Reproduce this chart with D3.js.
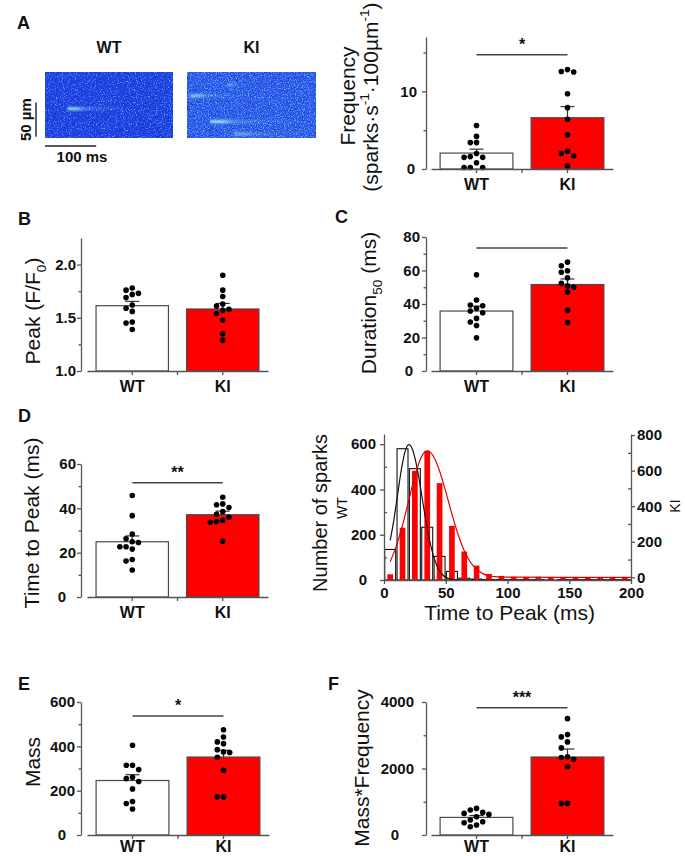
<!DOCTYPE html>
<html>
<head>
<meta charset="utf-8">
<script src="https://cdn.jsdelivr.net/npm/d3@7/dist/d3.min.js"></script>
<style>
html,body{margin:0;padding:0;background:#fff;}
svg{display:block;}
</style>
</head>
<body>
<svg id="fig" width="685" height="856" xmlns="http://www.w3.org/2000/svg"></svg>
<script>
// ================= DATA =================
const groups = ["WT", "KI"];

// A: spark frequency (sparks·s-1·100µm-1)
const freqWT = [5.6, 4.2, 3.4, 3.4, 2.0, 1.6, 1.5, 1.5, 0.8, 0.2, 0.2, 0.2];
const freqKI = [12.8, 12.55, 12.5, 9.7, 7.9, 6.4, 4.4, 2.3, 2.0, 1.7, 0.4];
const freqTicks = [0, 10];
const freqMinor = [5, 15];

// B: peak F/F0
const peakWT = [1.78, 1.76, 1.73, 1.72, 1.69, 1.62, 1.59, 1.56, 1.46, 1.45, 1.39];
const peakKI = [1.90, 1.76, 1.70, 1.63, 1.61, 1.58, 1.57, 1.54, 1.48, 1.35, 1.29];
const peakTicks = [1.0, 1.5, 2.0];
const peakMinor = [1.25, 1.75];

// C: duration50 (ms)
const durWT = [57.4, 42.4, 39.4, 39.0, 37.4, 35.8, 34.8, 31.4, 29.2, 27.2, 19.8];
const durKI = [65, 62.8, 59.8, 59, 55.6, 52.4, 50.8, 50, 47.2, 36.2, 29];
const durTicks = [0, 20, 40, 60, 80];
const durMinor = [10, 30, 50, 70];

// D: time to peak (ms)
const ttpWT = [45.8, 36.7, 28.4, 26.3, 24.9, 24.6, 22.7, 22.7, 21.6, 16.9, 16.2, 12.2];
const ttpKI = [45, 42, 41.6, 40.4, 38.5, 37.3, 36, 34.6, 34, 33.7, 25.2];
const ttpTicks = [0, 20, 40, 60];
const ttpMinor = [10, 30, 50];

// D: histogram of time to peak
const histBinCenters = [5, 15, 25, 35, 45, 55, 65, 75, 85, 95, 105, 115, 125, 135, 145, 155, 165, 175, 185, 195];
const histWT = [135, 580, 492, 233, 104, 38, 8, 4, 2, 2, 1, 1, 1, 0, 1, 1, 1, 1, 1, 1];
const histKI = [17, 279, 599, 711, 530, 289, 145, 66, 19, 8, 3, 2, 3, 1, 1, 2, 1, 0, 0, 0];
const fitWTt = [5, 8, 11, 14, 17, 20, 23, 26, 29, 32, 35, 38, 41, 44, 48, 52, 58, 70, 200];
const fitWTv = [175, 266, 377, 486, 566, 598, 578, 516, 427, 325, 229, 149, 90, 50, 20, 7, 1, 0, 0];
const fitKIt = [5, 10, 15, 20, 25, 30, 35, 40, 45, 50, 55, 60, 65, 70, 75, 80, 85, 90, 100, 200];
const fitKIv = [88, 177, 292, 431, 569, 673, 711, 681, 598, 482, 356, 241, 150, 85, 45, 21, 9, 4, 1, 0];
const histXTicks = [0, 50, 100, 150, 200];
const histXMinor = [25, 75, 125, 175];
const histLeftTicks = [0, 200, 400, 600];
const histLeftMinor = [100, 300, 500];
const histRightTicks = [0, 200, 400, 600, 800];
const histRightMinor = [100, 300, 500, 700];

// E: mass
const massWT = [405, 315, 315, 295, 260, 255, 241, 208, 151, 142, 117];
const massKI = [475, 442, 420, 412, 385, 375, 372, 351, 292, 172, 172];
const massTicks = [0, 200, 400, 600];
const massMinor = [100, 300, 500];

// F: mass*frequency
const mfWT = [800, 750, 680, 650, 620, 550, 450, 400, 370, 300, 250];
const mfKI = [3500, 3020, 2950, 2800, 2620, 2350, 2330, 2280, 2050, 950, 950];
const mfTicks = [0, 2000, 4000];
const mfMinor = [1000, 3000];

// A: line-scan sparks (time ms, position µm, relative brightness)
const sparksWT = [{t0: 44, t1: 160, pos: 54, amp: 0.95}];
const sparksKI = [
  {t0: 6, t1: 118, pos: 35, amp: 0.8},
  {t0: 78, t1: 122, pos: 19, amp: 0.5},
  {t0: 45, t1: 205, pos: 73, amp: 1.0},
  {t0: 90, t1: 248, pos: 91, amp: 0.55}
];

// ================= DRAWING =================
const svg = d3.select('#fig');
const defs = svg.append('defs');
const FONT = '"Liberation Sans", Arial, Helvetica, sans-serif';
const AX = '#555';
const RED = '#ff0000';

function label(parent, x, y, parts, size, o = {}) {
  const t = parent.append('text')
    .attr('x', x).attr('y', y)
    .attr('font-family', FONT).attr('font-size', size)
    .attr('font-weight', o.bold ? 'bold' : 'normal')
    .attr('text-anchor', o.anchor || 'middle')
    .attr('fill', '#111');
  if (o.dy) t.attr('dy', o.dy);
  if (o.rot) t.attr('transform', `rotate(${o.rot},${x},${y})`);
  if (typeof parts === 'string') parts = [{t: parts}];
  let shift = 0;
  parts.forEach(p => {
    const target = p.sub ? size * 0.25 : p.sup ? -size * 0.4 : 0;
    const ts = t.append('tspan').text(p.t);
    if (target - shift !== 0) ts.attr('dy', target - shift);
    if (p.sub || p.sup) ts.attr('font-size', size * 0.65);
    shift = target;
  });
  return t;
}

function styleAxis(sel, size = 15) {
  sel.attr('font-family', null).attr('font-size', null);
  sel.select('.domain').attr('stroke', AX).attr('stroke-width', 1.3);
  sel.selectAll('.tick line').attr('stroke', AX).attr('stroke-width', 1.3);
  sel.selectAll('.tick text').attr('font-family', FONT).attr('font-size', size)
    .attr('font-weight', 'bold').attr('fill', '#111');
  return sel;
}

function swarm(vals, y, cx) {
  const cols = [0, -1, 1, -2, 2, -3, 3, -4, 4];
  const step = 6.2, minD = 6;
  const placed = [];
  vals.slice().sort((a, b) => b - a).forEach(v => {
    const yy = y(v);
    for (const c of cols) {
      if (!placed.some(p => p.c === c && Math.abs(p.y - yy) < minD)) {
        placed.push({c, y: yy});
        break;
      }
    }
  });
  return placed.map(p => ({x: cx + p.c * step, y: p.y}));
}

function barPanel(o) {
  const g = svg.append('g');
  const x = d3.scaleBand().domain(groups).range(o.xRange).paddingInner(0.2).paddingOuter(0.1);
  const y = d3.scaleLinear().domain(o.domain).range(o.yRange);
  const base = o.yRange[0];
  const bw = x.bandwidth();
  const cx = k => x(k) + bw / 2;
  const fmt = o.fmt || d3.format('d');

  const stats = groups.map((k, i) => {
    const v = o.values[i];
    return {k, i, v, m: d3.mean(v), sem: d3.deviation(v) / Math.sqrt(v.length)};
  });

  g.selectAll('rect.bar').data(stats).join('rect').attr('class', 'bar')
    .attr('x', d => x(d.k)).attr('y', d => y(d.m))
    .attr('width', bw).attr('height', d => base - y(d.m))
    .attr('fill', d => d.i ? RED : '#fff')
    .attr('stroke', '#4a4a4a').attr('stroke-width', 1.2);

  stats.forEach(d => {
    const top = y(d.m + d.sem);
    g.append('line').attr('x1', cx(d.k)).attr('x2', cx(d.k))
      .attr('y1', y(d.m)).attr('y2', top).attr('stroke', '#333').attr('stroke-width', 1.2);
    g.append('line').attr('x1', cx(d.k) - 7).attr('x2', cx(d.k) + 7)
      .attr('y1', top).attr('y2', top).attr('stroke', '#333').attr('stroke-width', 1.2);
  });

  stats.forEach(d => {
    g.selectAll(null).data(swarm(d.v, y, cx(d.k))).join('circle')
      .attr('cx', p => p.x).attr('cy', p => p.y).attr('r', 2.8).attr('fill', '#000');
  });

  // y axis
  const ay = g.append('g').attr('transform', `translate(${o.axisX},0)`)
    .call(d3.axisLeft(y).tickValues(o.ticks).tickSize(4).tickSizeOuter(0)
      .tickPadding(o.pad).tickFormat(fmt));
  styleAxis(ay);
  ay.selectAll('.tick text').attr('dx', d => d === o.domain[0] ? (o.zeroDx || 0) : 0);
  const am = g.append('g').attr('transform', `translate(${o.axisX},0)`)
    .call(d3.axisLeft(y).tickValues(o.minor).tickSize(2.5).tickFormat(''));
  am.select('.domain').remove();
  styleAxis(am);

  // x axis
  const ax = g.append('g').attr('transform', `translate(0,${base})`)
    .call(d3.axisBottom(x).tickSize(4).tickSizeOuter(0).tickPadding(o.xpad == null ? 5.5 : o.xpad));
  styleAxis(ax, 16);
  ax.append('line').attr('x1', (cx('WT') + cx('KI')) / 2).attr('x2', (cx('WT') + cx('KI')) / 2)
    .attr('y1', 0).attr('y2', 4).attr('stroke', AX).attr('stroke-width', 1.3);

  // significance
  if (o.sig) {
    const sy = y(o.sig.v);
    g.append('line').attr('x1', cx('WT')).attr('x2', cx('KI'))
      .attr('y1', sy).attr('y2', sy).attr('stroke', '#444').attr('stroke-width', 1.5);
    if (o.sig.label) label(g, (cx('WT') + cx('KI')) / 2, sy - 4.5, o.sig.label, 16, {bold: true});
  }

  // y label(s)
  o.ylabels.forEach(l => label(g, l.x, l.y, l.parts, 21, {rot: -90, dy: '0.35em'}));
}

// ---------- panel letters ----------
[['A', 17, 29], ['B', 18, 225], ['C', 335, 223], ['D', 18, 422], ['E', 18, 690], ['F', 328, 690]]
  .forEach(([t, x, y]) => label(svg, x, y, t, 18, {bold: true, anchor: 'start'}));

// ---------- A: line-scan images ----------
(function () {
  const g = svg.append('g');
  const imgY = d3.scaleLinear().domain([0, 97]).range([72, 138]);
  const tWT = d3.scaleLinear().domain([0, 250]).range([45, 173]);
  const tKI = d3.scaleLinear().domain([0, 250]).range([187, 316]);

  function speckFilter(id, lightC, seed) {
    const f = defs.append('filter').attr('id', id)
      .attr('x', 0).attr('y', 0).attr('width', 1).attr('height', 1)
      .attr('color-interpolation-filters', 'sRGB');
    f.append('feTurbulence').attr('type', 'fractalNoise').attr('baseFrequency', 0.85)
      .attr('numOctaves', 2).attr('seed', seed).attr('result', 'n');
    f.append('feColorMatrix').attr('in', 'n').attr('type', 'matrix')
      .attr('values', `0 0 0 0 0.36  0 0 0 0 0.7  0 0 0 0 1  3.6 0 0 0 ${lightC}`).attr('result', 'l');
    f.append('feColorMatrix').attr('in', 'n').attr('type', 'matrix')
      .attr('values', '0 0 0 0 0.06  0 0 0 0 0.1  0 0 0 0 0.6  0 -3.4 0 0 1.35').attr('result', 'd');
    const m = f.append('feMerge');
    m.append('feMergeNode').attr('in', 'SourceGraphic');
    m.append('feMergeNode').attr('in', 'd');
    m.append('feMergeNode').attr('in', 'l');
  }
  speckFilter('speckWT', -1.95, 3);
  speckFilter('speckKI', -1.72, 9);

  const blur = defs.append('filter').attr('id', 'sparkBlur').attr('filterUnits', 'userSpaceOnUse')
    .attr('x', 0).attr('y', 50).attr('width', 340).attr('height', 110);
  blur.append('feGaussianBlur').attr('stdDeviation', '1.3 0.8');

  const grad = defs.append('linearGradient').attr('id', 'sparkGrad')
    .attr('x1', 0).attr('x2', 1).attr('y1', 0).attr('y2', 0);
  [[0, 1], [0.15, 0.95], [0.27, 0.4], [0.6, 0.15], [1, 0]].forEach(([o, a]) =>
    grad.append('stop').attr('offset', o).attr('stop-color', '#9ff4f0').attr('stop-opacity', a));

  function image(t, sparks, fill, filt, id) {
    const [x0, x1] = t.range();
    const [y0, y1] = imgY.range();
    defs.append('clipPath').attr('id', id).append('rect')
      .attr('x', x0).attr('y', y0).attr('width', x1 - x0).attr('height', y1 - y0);
    g.append('rect').attr('x', x0).attr('y', y0).attr('width', x1 - x0).attr('height', y1 - y0)
      .attr('fill', fill).attr('filter', `url(#${filt})`);
    const sg = g.append('g').attr('clip-path', `url(#${id})`).append('g').attr('filter', 'url(#sparkBlur)');
    sg.selectAll('rect').data(sparks).join('rect')
      .attr('x', d => t(d.t0)).attr('width', d => t(d.t1) - t(d.t0))
      .attr('y', d => imgY(d.pos) - 1.5).attr('height', 3)
      .attr('fill', 'url(#sparkGrad)').attr('opacity', d => d.amp);
  }
  image(tWT, sparksWT, '#1f3fe0', 'speckWT', 'clipWT');
  image(tKI, sparksKI, '#2a50e6', 'speckKI', 'clipKI');

  label(g, d3.mean(tWT.range()), 53, 'WT', 16, {bold: true});
  label(g, d3.mean(tKI.range()), 53, 'KI', 16, {bold: true});

  // scale bars: 50 µm and 100 ms
  const barBottom = imgY(95), barTop = imgY(95) - (imgY(50) - imgY(0));
  g.append('line').attr('x1', 36).attr('x2', 36).attr('y1', barBottom).attr('y2', barTop)
    .attr('stroke', '#222').attr('stroke-width', 1.4);
  g.append('line').attr('x1', tWT(0)).attr('x2', tWT(100)).attr('y1', 146).attr('y2', 146)
    .attr('stroke', '#222').attr('stroke-width', 1.4);
  label(g, 26, (barBottom + barTop) / 2, '50 µm', 15, {bold: true, rot: -90, dy: '0.35em'});
  label(g, 82, 162, '100 ms', 15, {bold: true});
})();

// ---------- bar panels ----------
barPanel({
  values: [freqWT, freqKI], domain: [0, 17], yRange: [169, 37], xRange: [431, 613], axisX: 426,
  ticks: freqTicks, minor: freqMinor, pad: 5, zeroDx: -2,
  sig: {v: 14.7, label: '*'},
  ylabels: [
    {x: 348, y: 96, parts: 'Frequency'},
    {x: 370.5, y: 97, parts: [{t: '(sparks·s'}, {t: '-1', sup: true}, {t: '·100µm'}, {t: '-1', sup: true}, {t: ')'}]}
  ]
});
barPanel({
  values: [peakWT, peakKI], domain: [1, 2.25], yRange: [371, 238], xRange: [87, 268], axisX: 81,
  ticks: peakTicks, minor: peakMinor, pad: 1, fmt: d3.format('.1f'),
  ylabels: [{x: 33, y: 311, parts: [{t: 'Peak (F/F'}, {t: '0', sub: true}, {t: ')'}]}]
});
barPanel({
  values: [durWT, durKI], domain: [0, 80], yRange: [371, 237], xRange: [431, 613], axisX: 426,
  ticks: durTicks, minor: durMinor, pad: 2, zeroDx: -7,
  sig: {v: 73.4, label: ''},
  ylabels: [{x: 369, y: 303, parts: [{t: 'Duration'}, {t: '50', sub: true}, {t: ' (ms)'}]}]
});
barPanel({
  values: [ttpWT, ttpKI], domain: [0, 60], yRange: [597, 464], xRange: [87, 268], axisX: 81,
  ticks: ttpTicks, minor: ttpMinor, pad: 1, zeroDx: -10,
  sig: {v: 51.5, label: '**'},
  ylabels: [{x: 32, y: 523, parts: 'Time to Peak (ms)'}]
});
barPanel({
  values: [massWT, massKI], domain: [0, 600], yRange: [835, 702], xRange: [87, 269], axisX: 81,
  ticks: massTicks, minor: massMinor, pad: 2, zeroDx: -9, xpad: 2,
  sig: {v: 537, label: '*'},
  ylabels: [{x: 33, y: 762, parts: 'Mass'}]
});
barPanel({
  values: [mfWT, mfKI], domain: [0, 4000], yRange: [835, 702], xRange: [431, 613], axisX: 426,
  ticks: mfTicks, minor: mfMinor, pad: 8, zeroDx: -15, xpad: 2,
  sig: {v: 3829, label: '***'},
  ylabels: [{x: 362, y: 768, parts: 'Mass*Frequency'}]
});

// ---------- D: histogram ----------
(function () {
  const g = svg.append('g');
  const hx = d3.scaleLinear().domain([0, 200]).range([384, 631]);
  const hyL = d3.scaleLinear().domain([0, 645]).range([580, 434]);
  const hyR = d3.scaleLinear().domain([-15, 806]).range([580, 434]);
  const baseY = hyL(0);
  const binW = hx(10) - hx(0);

  const wt = histBinCenters.map((c, i) => ({c, v: histWT[i]}));
  const ki = histBinCenters.map((c, i) => ({c, v: histKI[i]}));

  g.selectAll('rect.wt').data(wt).join('rect').attr('class', 'wt')
    .attr('x', d => hx(d.c - 5) + 0.7).attr('width', binW - 1.4)
    .attr('y', d => hyL(d.v)).attr('height', d => baseY - hyL(d.v))
    .attr('fill', '#fff').attr('stroke', '#111').attr('stroke-width', 1.1);

  g.selectAll('rect.ki').data(ki).join('rect').attr('class', 'ki')
    .attr('x', d => hx(d.c - 2.3)).attr('width', hx(4.6) - hx(0))
    .attr('y', d => Math.min(hyR(d.v), baseY)).attr('height', d => Math.max(0, baseY - hyR(d.v)))
    .attr('fill', RED);

  const lineL = d3.line().x(d => hx(d[0])).y(d => hyL(d[1])).curve(d3.curveMonotoneX);
  const lineR = d3.line().x(d => hx(d[0])).y(d => Math.min(hyR(d[1]), baseY)).curve(d3.curveMonotoneX);
  g.append('path').attr('d', lineL(fitWTt.map((t, i) => [t, fitWTv[i]])))
    .attr('fill', 'none').attr('stroke', '#111').attr('stroke-width', 1.2);
  g.append('path').attr('d', lineR(fitKIt.map((t, i) => [t, fitKIv[i]])))
    .attr('fill', 'none').attr('stroke', '#e00000').attr('stroke-width', 1.2);

  // axes
  const al = g.append('g').attr('transform', `translate(${hx(0)},0)`)
    .call(d3.axisLeft(hyL).tickValues(histLeftTicks).tickSize(4).tickSizeOuter(0).tickPadding(4).tickFormat(d3.format('d')));
  styleAxis(al);
  al.selectAll('.tick text').attr('dx', d => d === 0 ? -9 : 0);
  const alm = g.append('g').attr('transform', `translate(${hx(0)},0)`)
    .call(d3.axisLeft(hyL).tickValues(histLeftMinor).tickSize(-3).tickFormat(''));
  alm.select('.domain').remove(); styleAxis(alm);

  const ar = g.append('g').attr('transform', `translate(${hx(200)},0)`)
    .call(d3.axisRight(hyR).tickValues(histRightTicks).tickSize(4).tickSizeOuter(0).tickPadding(2).tickFormat(d3.format('d')));
  styleAxis(ar);
  const arm = g.append('g').attr('transform', `translate(${hx(200)},0)`)
    .call(d3.axisRight(hyR).tickValues(histRightMinor).tickSize(-3).tickFormat(''));
  arm.select('.domain').remove(); styleAxis(arm);

  const ab = g.append('g').attr('transform', `translate(0,${baseY})`)
    .call(d3.axisBottom(hx).tickValues(histXTicks).tickSize(4).tickSizeOuter(0).tickPadding(3).tickFormat(d3.format('d')));
  styleAxis(ab);
  const abm = g.append('g').attr('transform', `translate(0,${baseY})`)
    .call(d3.axisBottom(hx).tickValues(histXMinor).tickSize(-3).tickFormat(''));
  abm.select('.domain').remove(); styleAxis(abm);

  label(g, 320, 513, 'Number of sparks', 20, {rot: -90, dy: '0.35em'});
  label(g, 342.5, 508, 'WT', 14, {rot: -90, dy: '0.35em'});
  label(g, 675.5, 506, 'KI', 14, {rot: -90, dy: '0.35em'});
  label(g, d3.mean(hx.range()) + 2, 620, 'Time to Peak (ms)', 21);
})();
</script>
</body>
</html>
